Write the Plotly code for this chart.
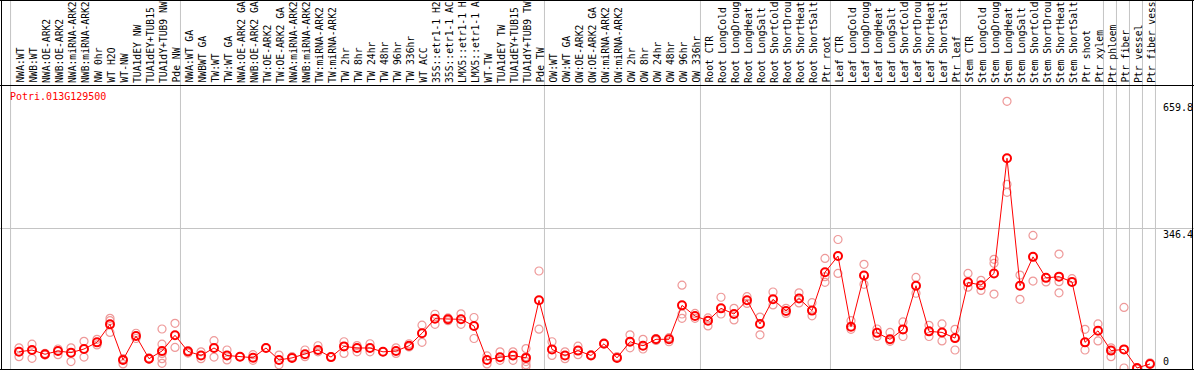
import plotly.graph_objects as go

# ---------------- data ----------------
gene = "Potri.013G129500"

labels = [
    # group 1
    "NWA:WT", "NWB:WT", "NWA:OE-ARK2", "NWB:OE-ARK2", "NWA:miRNA-ARK2", "NWB:miRNA-ARK2",
    "NW 0hr", "WT H2O", "WT-NW", "TUA1dEY NW", "TUA1dEY+TUB15", "TUA1dY+TUB9 NW", "Pde NW",
    # group 2
    "NWA:WT GA", "NWBWT GA", "TW:WT", "TW:WT GA", "NWA:OE-ARK2 GA", "NWB:OE-ARK2 GA",
    "TW:OE-ARK2", "TW:OE-ARK2 GA", "NWA:miRNA-ARK2", "NWB:miRNA-ARK2", "TW:miRNA-ARK2",
    "TW:miRNA-ARK2", "TW 2hr", "TW 8hr", "TW 24hr", "TW 48hr", "TW 96hr", "TW 336hr",
    "WT ACC", "35S::etr1-1 H2", "35S::etr1-1 AC", "LMX5::etr1-1 H", "LMX5::etr1-1 A",
    "WT-TW", "TUA1dEY TW", "TUA1dEY+TUB15", "TUA1dY+TUB9 TW", "Pde TW",
    # group 3
    "OW:WT", "OW:WT GA", "OW:OE-ARK2", "OW:OE-ARK2 GA", "OW:miRNA-ARK2", "OW:miRNA-ARK2",
    "OW 2hr", "OW 8hr", "OW 24hr", "OW 48hr", "OW 96hr", "OW 336hr",
    # group 4
    "Root CTR", "Root LongCold", "Root LongDroug", "Root LongHeat", "Root LongSalt",
    "Root ShortCold", "Root ShortDrou", "Root ShortHeat", "Root ShortSalt", "Ptr root",
    # group 5
    "Leaf CTR", "Leaf LongCold", "Leaf LongDroug", "Leaf LongHeat", "Leaf LongSalt",
    "Leaf ShortCold", "Leaf ShortDrou", "Leaf ShortHeat", "Leaf ShortSalt", "Ptr leaf",
    # group 6
    "Stem CTR", "Stem LongCold", "Stem LongDroug", "Stem LongHeat", "Stem LongSalt",
    "Stem ShortCold", "Stem ShortDrou", "Stem ShortHeat", "Stem ShortSalt", "Ptr shoot",
    # tissues
    "Ptr xylem", "Ptr phloem", "Ptr fiber", "Ptr vessel", "Ptr fiber vess",
]

mean_values = [
    40, 44.5, 34, 42, 38, 47, 63.5, 108, 20, 79, 23, 42, 81,
    41, 31, 49.5, 31, 28, 25.5, 49.5, 20, 25, 34, 44.5, 27, 53.5, 49.5, 49.5, 40, 42, 55,
    86, 122, 120.5, 120.5, 104, 20, 26.5, 31, 25, 167.5,
    46, 31, 43, 31, 60, 25, 65, 55, 71, 71, 155, 128.6,
    117, 147.6, 133.6, 167.5, 109, 170, 141, 172, 142, 237,
    277, 102, 229, 87, 71, 95.5, 203.6, 90.7, 88, 74,
    212, 205, 234, 519, 203.6, 275, 223, 226, 213, 63.5,
    92, 43, 46, 0, 10,
]

replicate_values = [
    [50, 28], [59, 24], [36, 32], [47, 33], [50, 16], [66, 27], [71, 57], [123, 117, 88],
    [23, 10], [86, 73], [25, 22], [96.5, 59, 36, 23, 11.6], [110.5, 51],
    [43, 37], [40, 23], [67.5, 27], [44.5, 20], [28], [33, 19], [50], [32, 8], [28],
    [44.5, 28], [55, 40], [28], [65, 36], [55.6, 40], [60, 40], [40], [50, 36], [60, 52],
    [106, 63.5], [133, 108], [124, 117], [134, 108], [125, 73], [30, 10], [40, 19],
    [40, 19], [48, 28, 16, 8, 3], [240, 96],
    [65, 31], [40, 23], [54, 33], [33], [62], [28], [82, 50], [71, 47], [73, 68], [75, 65],
    [205, 133.6, 123], [135, 123],
    [124, 104], [175, 133.6], [147.6, 119], [176.5, 159.7], [126, 82], [188, 156],
    [147.6, 135], [186, 161], [161.6, 129], [271, 226, 212],
    [318, 234], [117, 95.7], [256.5, 207], [96.5, 78], [88, 66], [114, 78], [224, 185],
    [105.6, 78], [109, 67], [95.7, 44.5],
    [234, 200], [217, 192], [269, 259, 183], [659.8, 454.5, 434.6], [230, 170], [328, 215],
    [213], [282, 213.5, 186], [221], [95.7, 44.5],
    [109, 67], [50, 28], [150, 0], [-3], [13],
]

# last index of each block (separator drawn after it)
group_ends = [12, 40, 52, 62, 72, 83, 84, 85, 86, 87]

axis_marks = [659.8, 346.4, 0]

# ---------------- figure ----------------
W, H = 1194, 370
TOP = 86           # header height in px
PLOT_H = H - TOP
n = len(labels)
xs = list(range(n))

# x axis: column spacing 13 px, first column at px 19
x0 = -19 / 13
x1 = x0 + W / 13
# y axis: 0 at px 368, 346.4 at px 228
scale = (368 - 228) / 346.4
y_top = (368 - TOP) / scale
y_bot = -(H - 368) / scale

rep_x, rep_y = [], []
for i, reps in enumerate(replicate_values):
    for v in reps:
        rep_x.append(i)
        rep_y.append(v)

fig = go.Figure()
fig.add_trace(go.Scatter(
    x=rep_x, y=rep_y, mode="markers",
    marker=dict(symbol="circle-open", size=8, color="#ee9999", line=dict(width=1.2)),
    hoverinfo="skip", showlegend=False,
))
fig.add_trace(go.Scatter(
    x=xs, y=mean_values, mode="lines+markers",
    line=dict(color="#ff0000", width=1),
    marker=dict(symbol="circle-open", size=8, color="#ff0000", line=dict(width=2)),
    showlegend=False,
))

gray = "#c4c4c4"
shapes = []
sep_positions = [-0.65] + [g + 0.42 for g in group_ends]
for s in sep_positions:
    shapes.append(dict(type="line", xref="x", yref="paper", x0=s, x1=s,
                       y0=0, y1=H / PLOT_H, line=dict(color=gray, width=1), layer="below"))
px = lambda p: p / W
py = lambda p: (H - p) / PLOT_H
shapes += [
    dict(type="line", xref="paper", yref="paper", x0=0, x1=1, y0=py(85.5), y1=py(85.5),
         line=dict(color="black", width=1)),
    dict(type="line", xref="paper", yref="paper", x0=0, x1=1, y0=py(0.5), y1=py(0.5),
         line=dict(color="black", width=1)),
    dict(type="line", xref="paper", yref="paper", x0=0, x1=1, y0=py(369.5), y1=py(369.5),
         line=dict(color="black", width=1)),
    dict(type="line", xref="paper", yref="paper", x0=px(1.5), x1=px(1.5), y0=py(370), y1=py(0),
         line=dict(color="black", width=1)),
    dict(type="line", xref="paper", yref="paper", x0=px(1192.5), x1=px(1192.5), y0=py(370), y1=py(0),
         line=dict(color="black", width=1)),
]

font_mono = "DejaVu Sans Mono"
annotations = []
for i, lab in enumerate(labels):
    annotations.append(dict(
        x=i, y=py(84), xref="x", yref="paper", text=lab, showarrow=False,
        textangle=-90, xanchor="center", yanchor="bottom", xshift=1,
        font=dict(family=font_mono, size=9.7, color="black"), borderpad=0,
    ))
annotations.append(dict(
    x=px(9), y=py(97), xref="paper", yref="paper", text=gene, showarrow=False,
    xanchor="left", yanchor="middle", font=dict(family=font_mono, size=10, color="#ff0000"),
    borderpad=0,
))
for v in axis_marks:
    annotations.append(dict(
        x=px(1162), y=v, xref="paper", yref="y", text=f"{v:g}" if v else "0", showarrow=False,
        xanchor="left", yanchor="bottom" if v == 0 else "top",
        font=dict(family=font_mono, size=10, color="black"), borderpad=0,
    ))

fig.update_layout(
    width=W, height=H,
    margin=dict(l=0, r=0, t=TOP, b=0, pad=0),
    paper_bgcolor="white", plot_bgcolor="white",
    xaxis=dict(range=[x0, x1], showgrid=False, zeroline=False, showticklabels=False,
               showline=False, ticks=""),
    yaxis=dict(range=[y_bot, y_top], tickvals=[346.4], showgrid=True, gridcolor=gray,
               gridwidth=1, zeroline=False, showticklabels=False, showline=False, ticks=""),
    shapes=shapes, annotations=annotations,
    showlegend=False,
)

fig.write_html(
    "out.html",
    config={"displayModeBar": False},
    post_script="document.body.style.margin='0';document.body.style.padding='0';"
                "document.documentElement.style.overflow='hidden';",
)
